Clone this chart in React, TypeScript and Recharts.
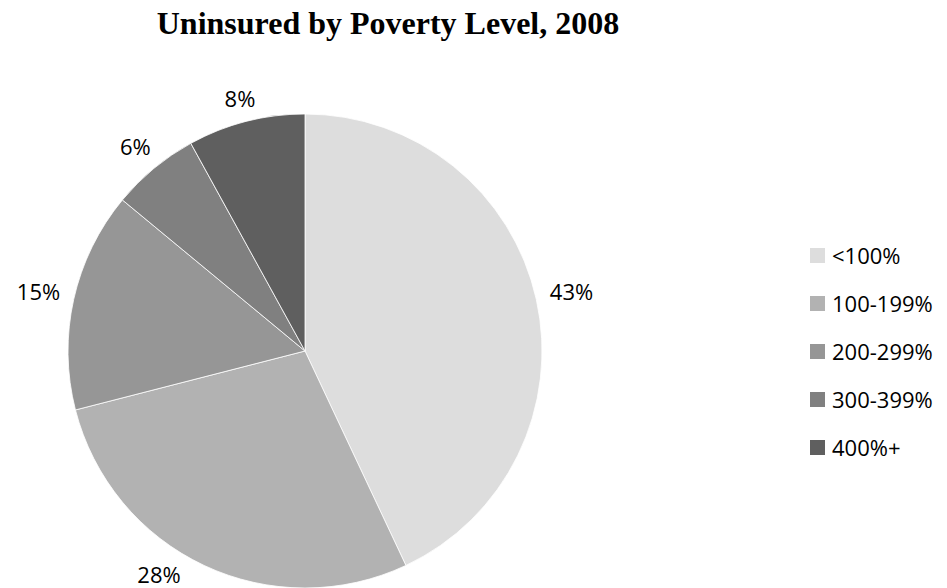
import { PieChart, Pie, Cell, Legend } from "recharts";

const categories = ["<100%", "100-199%", "200-299%", "300-399%", "400%+"];
const shares = [43, 28, 15, 6, 8];

const COLORS = [
  "#DDDDDD", // <100%
  "#B2B2B2", // 100-199%
  "#969696", // 200-299%
  "#808080", // 300-399%
  "#5F5F5F", // 400%+
];

const data = categories.map((name, i) => ({ name, value: shares[i] }));

const RAD = Math.PI / 180;
const LABEL_FONT = "'Open Sans', sans-serif";

// place the label box just outside the rim, like the spreadsheet does
function renderLabel(props: any) {
  const { cx, cy, midAngle, outerRadius, value } = props;
  const text = `${value}%`;
  const w = (text.length - 1) * 12.6 + 18.5;
  const h = 16;
  const cos = Math.cos(-midAngle * RAD);
  const sin = Math.sin(-midAngle * RAD);
  const d = outerRadius + 13 + Math.abs(cos) * w / 2 + Math.abs(sin) * h / 2;
  let x = cx + d * cos;
  let y = cy + d * sin;
  const maxY = 574;
  if (y > maxY) {
    const dy = maxY - cy;
    x = cx + Math.sign(cos) * Math.sqrt(Math.max(d * d - dy * dy, 0));
    y = maxY;
  }
  return (
    <text x={x} y={y} textAnchor="middle" dominantBaseline="central" fill="#000" fontSize={22} fontFamily={LABEL_FONT}>
      {text}
    </text>
  );
}

function LegendList(props: any) {
  const payload = [...(props.payload || [])].sort(
    (a: any, b: any) => categories.indexOf(a.value) - categories.indexOf(b.value)
  );
  return (
    <ul style={{ listStyle: "none", margin: 0, padding: 0 }}>
      {payload.map((entry: any, i: number) => (
        <li key={i} style={{ display: "flex", alignItems: "center", height: 48 }}>
          <span style={{ width: 15, height: 15, background: entry.color, display: "inline-block", marginRight: 7 }} />
          <span style={{ fontFamily: LABEL_FONT, fontSize: 22, color: "#000" }}>{entry.value}</span>
        </li>
      ))}
    </ul>
  );
}

export default function App() {
  return (
    <div style={{ position: "absolute", left: 0, top: 0, width: 947, height: 588, background: "#fff" }}>
      <div
        style={{
          position: "absolute",
          left: 0,
          width: 776,
          top: 5,
          textAlign: "center",
          fontFamily: "'Liberation Serif', serif",
          fontWeight: "bold",
          fontSize: 32,
          color: "#000",
        }}
      >
        Uninsured by Poverty Level, 2008
      </div>
      <PieChart width={947} height={588} margin={{ top: 0, right: 0, bottom: 0, left: 0 }}>
        <Pie
          data={data}
          dataKey="value"
          nameKey="name"
          cx={305}
          cy={351}
          outerRadius={237}
          startAngle={90}
          endAngle={-270}
          stroke="#ffffff"
          strokeWidth={0.8}
          label={renderLabel}
          labelLine={false}
          isAnimationActive={false}
        >
          {data.map((_, i) => (
            <Cell key={i} fill={COLORS[i]} />
          ))}
        </Pie>
        <Legend
          layout="vertical"
          align="right"
          verticalAlign="top"
          content={<LegendList />}
          wrapperStyle={{ left: 810, top: 231, width: 137 }}
        />
      </PieChart>
    </div>
  );
}
